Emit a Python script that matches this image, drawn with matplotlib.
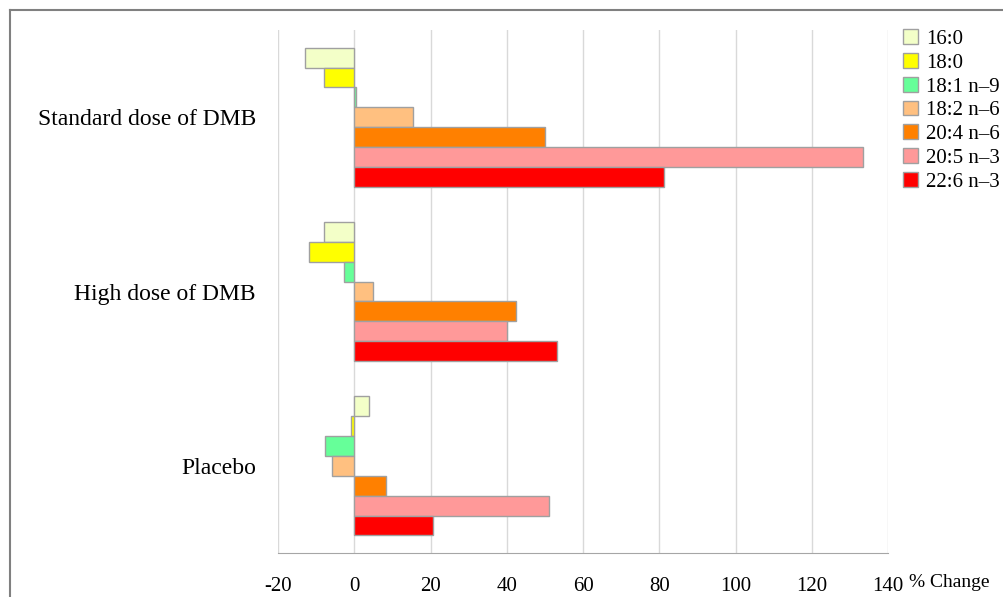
import numpy as np
import matplotlib
matplotlib.use("Agg")
import matplotlib.pyplot as plt
from matplotlib.lines import Line2D

groups = ["Standard dose of DMB", "High dose of DMB", "Placebo"]
series = ["16:0", "18:0", "18:1 n\u20139", "18:2 n\u20136", "20:4 n\u20136", "20:5 n\u20133", "22:6 n\u20133"]
colors = ["#f3ffc8", "#ffff00", "#66ff99", "#ffc080", "#ff8000", "#ff9999", "#ff0000"]

# % change per group, one list per fatty acid
fa_16_0 = [-13.0, -8.0, 3.8]
fa_18_0 = [-8.0, -12.0, -0.9]
fa_18_1 = [0.5, -2.8, -7.8]
fa_18_2 = [15.5, 4.8, -5.9]
fa_20_4 = [50.0, 42.3, 8.4]
fa_20_5 = [133.5, 40.1, 51.0]
fa_22_6 = [81.2, 53.2, 20.6]
values = [fa_16_0, fa_18_0, fa_18_1, fa_18_2, fa_20_4, fa_20_5, fa_22_6]

xticks = [-20, 0, 20, 40, 60, 80, 100, 120, 140]

plt.rcParams["font.family"] = ["Liberation Serif", "DejaVu Serif"]

fig = plt.figure(figsize=(10.04, 5.97), dpi=100)
ax = fig.add_axes([0.2769, 0.0737, 0.6076, 0.876])

h = 0.114
y = np.arange(len(groups))
n = len(series)
for i, (name, vals, c) in enumerate(zip(series, values, colors)):
    offs = (i - (n - 1) / 2) * h
    ax.barh(y + offs, vals, height=h, color=c, edgecolor="#a0a0a0",
            linewidth=1.0, label=name, zorder=3)

ax.set_ylim(2.5, -0.5)
ax.set_xlim(-20, 140)
ax.set_xticks(xticks)
ax.set_xticklabels([str(t) for t in xticks], fontsize=15)
ax.set_yticks(y)
ax.set_yticklabels(groups, fontsize=17)
ax.tick_params(axis="x", length=0, pad=17)
ax.tick_params(axis="y", length=0, pad=16)
ax.grid(True, axis="x", color="#d9d9d9", linewidth=1, zorder=0)

for s in ["top", "right", "left"]:
    ax.spines[s].set_visible(False)
ax.spines["bottom"].set_color("#a6a6a6")

fig.text(0.905, 0.0235, "% Change", fontsize=14, ha="left", va="center")

ax.legend(loc="upper left", bbox_to_anchor=(1.004, 1.025), frameon=False,
          fontsize=15, handlelength=0.7, handleheight=0.7,
          handletextpad=0.4, labelspacing=0.2, borderaxespad=0.2)

# outer frame
fig.add_artist(Line2D([0.00996, 1.0], [0.9832, 0.9832], color="#808080", linewidth=1.5))
fig.add_artist(Line2D([0.00996, 0.00996], [0.0, 0.9832], color="#808080", linewidth=1.5))

fig.savefig("out.png", dpi=100)
plt.close(fig)
